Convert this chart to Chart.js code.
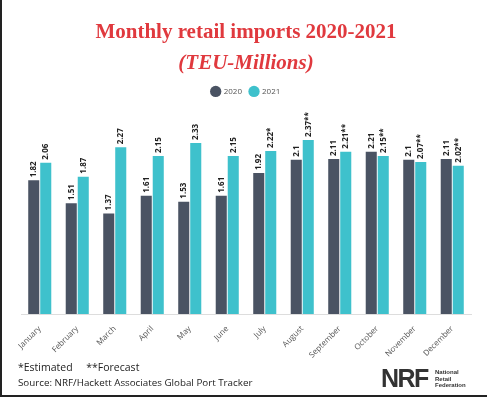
<!DOCTYPE html>
<html>
<head>
<meta charset="utf-8">
<script src="https://cdn.jsdelivr.net/npm/chart.js@4/dist/chart.umd.min.js"></script>
<style>
  html, body { margin: 0; padding: 0; background: #fff; }
  #wrap { position: relative; width: 487px; height: 397px; overflow: hidden; }
  #frame { position: absolute; left: 0; top: 0; width: 485px; height: 395px; border-left: 2px solid #222; border-bottom: 2px solid #222; pointer-events: none; }
  canvas { position: absolute; left: 0; top: 0; }
  .foot { position: absolute; font-family: "Open Sans", sans-serif; color: #222; white-space: nowrap; }
  #notes { left: 18px; top: 360px; font-size: 10.5px; }
  #source { left: 18px; top: 376px; font-size: 9.8px; }
  #nrf { left: 381px; top: 366px; font-family: "Liberation Sans", sans-serif; font-weight: 900; font-size: 25px; letter-spacing: -1.5px; color: #333; line-height: 25px; }
  #nrfname { left: 435px; top: 369px; font-family: "Liberation Sans", sans-serif; font-weight: bold; font-size: 6px; line-height: 6.5px; color: #333; }
</style>
</head>
<body>
<div id="wrap">
  <canvas id="chart" width="487" height="397"></canvas>
  <div class="foot" id="notes">*Estimated&nbsp;&nbsp;&nbsp;&nbsp;&nbsp;**Forecast</div>
  <div class="foot" id="source">Source: NRF/Hackett Associates Global Port Tracker</div>
  <div class="foot" id="nrf">NRF</div>
  <div class="foot" id="nrfname">National<br>Retail<br>Federation</div>
  <div id="frame"></div>
</div>
<script>
// data
const months = ['January', 'February', 'March', 'April', 'May', 'June',
                'July', 'August', 'September', 'October', 'November', 'December'];
const imports2020 = [1.82, 1.51, 1.37, 1.61, 1.53, 1.61, 1.92, 2.1, 2.11, 2.21, 2.1, 2.11];
const imports2021 = [2.06, 1.87, 2.27, 2.15, 2.33, 2.15, 2.22, 2.37, 2.21, 2.15, 2.07, 2.02];
// * estimated, ** forecast
const notes2020 = ['', '', '', '', '', '', '', '', '', '', '', ''];
const notes2021 = ['', '', '', '', '', '', '*', '**', '**', '**', '**', '**'];

const DARK = '#4a5363';
const CYAN = '#3ec1cc';

// rotated value labels above each bar
const barLabels = {
    id: 'barLabels',
    afterDatasetsDraw(chart) {
        const ctx = chart.ctx;
        const notes = [notes2020, notes2021];
        ctx.save();
        ctx.font = 'bold 8px "Open Sans", sans-serif';
        ctx.fillStyle = '#222';
        ctx.textAlign = 'left';
        ctx.textBaseline = 'middle';
        chart.data.datasets.forEach((ds, i) => {
            chart.getDatasetMeta(i).data.forEach((bar, j) => {
                ctx.save();
                ctx.translate(bar.x, bar.y - 3);
                ctx.rotate(-Math.PI / 2);
                ctx.fillText(String(ds.data[j]) + notes[i][j], 0, 0);
                ctx.restore();
            });
        });
        ctx.restore();
    }
};

new Chart(document.getElementById('chart'), {
    type: 'bar',
    data: {
        labels: months,
        datasets: [
            { label: '2020', data: imports2020, backgroundColor: DARK },
            { label: '2021', data: imports2021, backgroundColor: CYAN }
        ]
    },
    options: {
        responsive: false,
        animation: false,
        categoryPercentage: 0.64,
        barPercentage: 0.92,
        layout: { padding: { left: 21, right: 16, top: 0, bottom: 35 } },
        scales: {
            x: {
                grid: { display: false },
                border: { display: true, color: '#dddddd' },
                ticks: {
                    minRotation: 45, maxRotation: 45,
                    color: '#555',
                    padding: 2,
                    font: { family: '"Open Sans", sans-serif', size: 8 }
                }
            },
            y: { display: false, min: 0, max: 2.84 }
        },
        plugins: {
            title: {
                display: true,
                text: 'Monthly retail imports 2020-2021',
                color: '#e0393e',
                font: { family: '"Liberation Serif", serif', size: 21, weight: 'bold' },
                padding: { top: 20, bottom: 6 }
            },
            subtitle: {
                display: true,
                text: '(TEU-Millions)',
                color: '#e0393e',
                font: { family: '"Liberation Serif", serif', size: 21, weight: 'bold', style: 'italic' },
                padding: { top: 0, bottom: 3 }
            },
            legend: {
                labels: {
                    usePointStyle: true,
                    pointStyle: 'circle',
                    boxWidth: 9,
                    boxHeight: 9,
                    padding: 8,
                    color: '#555',
                    font: { family: '"Open Sans", sans-serif', size: 8 }
                }
            },
            tooltip: { enabled: false }
        }
    },
    plugins: [barLabels]
});
</script>
</body>
</html>
